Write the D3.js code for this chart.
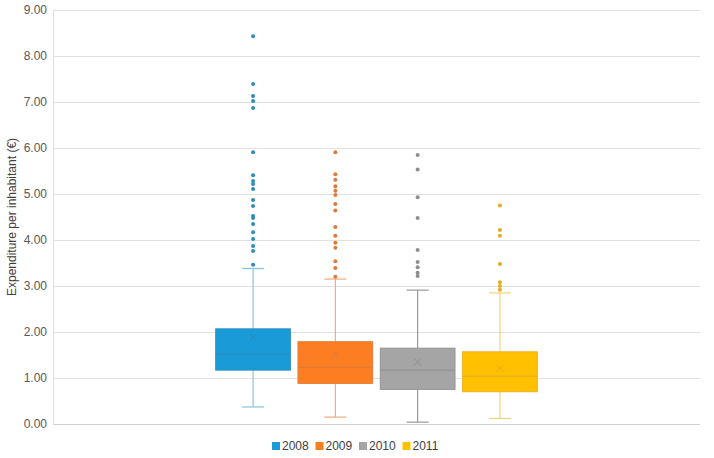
<!DOCTYPE html>
<html>
<head>
<meta charset="utf-8">
<script src="https://cdn.jsdelivr.net/npm/d3@7"></script>
<style>
  body { margin: 0; background: #fff; }
  text { font-family: "Liberation Sans", Arial, sans-serif; }
</style>
</head>
<body>
<div id="chart"></div>
<script>

let years = ['2008', '2009', '2010', '2011'];
let colors = ['#1a9ad6', '#fd7e22', '#a5a5a5', '#ffc000'];
let darkColors = ['#2e8bbd', '#dd7a3a', '#8e8e8e', '#e3ac20'];
let whiskerColors = ['#86c3e2', '#f5ab7c', '#9a9a9a', '#f2d27a'];

// q1, median, q3, mean, whisker low, whisker high
let q1 = [1.17, 0.88, 0.75, 0.70];
let median = [1.52, 1.23, 1.17, 1.04];
let q3 = [2.07, 1.79, 1.65, 1.57];
let mean = [1.89, 1.52, 1.35, 1.21];
let whiskLo = [0.37, 0.15, 0.04, 0.12];
let whiskHi = [3.38, 3.15, 2.91, 2.85];

let outliers = [
  [8.43, 7.39, 7.13, 7.02, 6.87, 5.91, 5.41, 5.28, 5.22, 5.11, 4.87, 4.74, 4.52, 4.48, 4.35, 4.17, 4.02, 3.87, 3.76, 3.46],
  [5.91, 5.43, 5.31, 5.17, 5.07, 4.98, 4.78, 4.64, 4.28, 4.09, 3.94, 3.83, 3.54, 3.39, 3.20],
  [5.85, 5.53, 4.93, 4.48, 3.78, 3.52, 3.41, 3.29, 3.22],
  [4.75, 4.22, 4.09, 3.48, 3.08, 3.00, 2.92]
];

let yTicks = [0, 1, 2, 3, 4, 5, 6, 7, 8, 9];

let width = 714;
let height = 458;
let margin = {top: 10, right: 14, bottom: 34, left: 53};

let svg = d3.select("#chart").append("svg")
  .attr('width', width)
  .attr('height', height);

const y = d3.scaleLinear()
  .domain([0, 9])
  .range([height - margin.bottom, margin.top]);

const x0 = d3.scaleBand()
  .domain([''])
  .range([margin.left, width - margin.right])
  .paddingOuter(0.483)
  .paddingInner(0);

const x1 = d3.scaleBand()
  .domain(years)
  .range([x0(''), x0('') + x0.bandwidth()])
  .paddingInner(0.09)
  .paddingOuter(0.045);

// gridlines
svg.append("g")
  .selectAll("line")
  .data(yTicks)
  .enter()
  .append("line")
  .attr("x1", margin.left)
  .attr("x2", width - margin.right)
  .attr("y1", d => Math.round(y(d)) + 0.5)
  .attr("y2", d => Math.round(y(d)) + 0.5)
  .attr("stroke", d => d === 0 ? "#d0d0d0" : "#e0e0e0")
  .attr("stroke-width", 1);

// left axis line
svg.append("line")
  .attr("x1", margin.left + 0.5)
  .attr("x2", margin.left + 0.5)
  .attr("y1", y(9))
  .attr("y2", y(0))
  .attr("stroke", "#e0e0e0");

// tick labels
svg.append("g")
  .selectAll("text")
  .data(yTicks)
  .enter()
  .append("text")
  .attr("x", margin.left - 6)
  .attr("y", d => y(d))
  .attr("dy", ".35em")
  .attr("text-anchor", "end")
  .attr("font-size", "12")
  .attr("fill", "#595959")
  .text(d => d.toFixed(2));

svg.append("text")
  .attr("transform", "translate(16," + ((y(0) + y(9)) / 2) + ") rotate(-90)")
  .attr("text-anchor", "middle")
  .attr("font-size", "12")
  .attr("fill", "#404040")
  .text("Expenditure per inhabitant (€)");

// boxes
const boxes = svg.append("g")
  .selectAll("g")
  .data(years)
  .enter()
  .append("g");

boxes.each(function(yr, i) {
  const g = d3.select(this);
  const bx = x1(yr);
  const bw = x1.bandwidth();
  const cx = bx + bw / 2;
  const cap = 11;

  // whiskers
  g.append("line")
    .attr("x1", cx).attr("x2", cx)
    .attr("y1", y(q3[i])).attr("y2", y(whiskHi[i]))
    .attr("stroke", whiskerColors[i]).attr("stroke-width", 1.2);
  g.append("line")
    .attr("x1", cx).attr("x2", cx)
    .attr("y1", y(q1[i])).attr("y2", y(whiskLo[i]))
    .attr("stroke", whiskerColors[i]).attr("stroke-width", 1.2);
  g.append("line")
    .attr("x1", cx - cap).attr("x2", cx + cap)
    .attr("y1", y(whiskHi[i])).attr("y2", y(whiskHi[i]))
    .attr("stroke", whiskerColors[i]).attr("stroke-width", 1.2);
  g.append("line")
    .attr("x1", cx - cap).attr("x2", cx + cap)
    .attr("y1", y(whiskLo[i])).attr("y2", y(whiskLo[i]))
    .attr("stroke", whiskerColors[i]).attr("stroke-width", 1.2);

  // box
  g.append("rect")
    .attr("x", bx)
    .attr("y", y(q3[i]))
    .attr("width", bw)
    .attr("height", y(q1[i]) - y(q3[i]))
    .attr("fill", colors[i])
    .attr("stroke", darkColors[i])
    .attr("stroke-width", 0.8);

  g.append("line")
    .attr("x1", bx).attr("x2", bx + bw)
    .attr("y1", y(median[i])).attr("y2", y(median[i]))
    .attr("stroke", darkColors[i]).attr("stroke-width", 1);

  // mean marker
  const m = y(mean[i]);
  g.append("path")
    .attr("d", "M" + (cx - 3.5) + "," + (m - 3.5) + "L" + (cx + 3.5) + "," + (m + 3.5) +
               "M" + (cx - 3.5) + "," + (m + 3.5) + "L" + (cx + 3.5) + "," + (m - 3.5))
    .attr("stroke", darkColors[i])
    .attr("stroke-width", 1);

  // outliers
  g.selectAll("circle")
    .data(outliers[i])
    .enter()
    .append("circle")
    .attr("cx", cx)
    .attr("cy", d => y(d))
    .attr("r", 2)
    .attr("fill", darkColors[i]);
});

// legend
const legend = svg.append("g")
  .selectAll("g")
  .data(years)
  .enter()
  .append("g")
  .attr("transform", (d, i) => "translate(" + (272 + i * 43.5) + "," + 446 + ")");

legend.append("rect")
  .attr("x", 0)
  .attr("y", -4)
  .attr("width", 8)
  .attr("height", 8)
  .attr("fill", (d, i) => colors[i]);

legend.append("text")
  .attr("x", 10)
  .attr("y", 0)
  .attr("dy", ".35em")
  .attr("font-size", "12")
  .attr("fill", "#404040")
  .text(d => d);

</script>
</body>
</html>
